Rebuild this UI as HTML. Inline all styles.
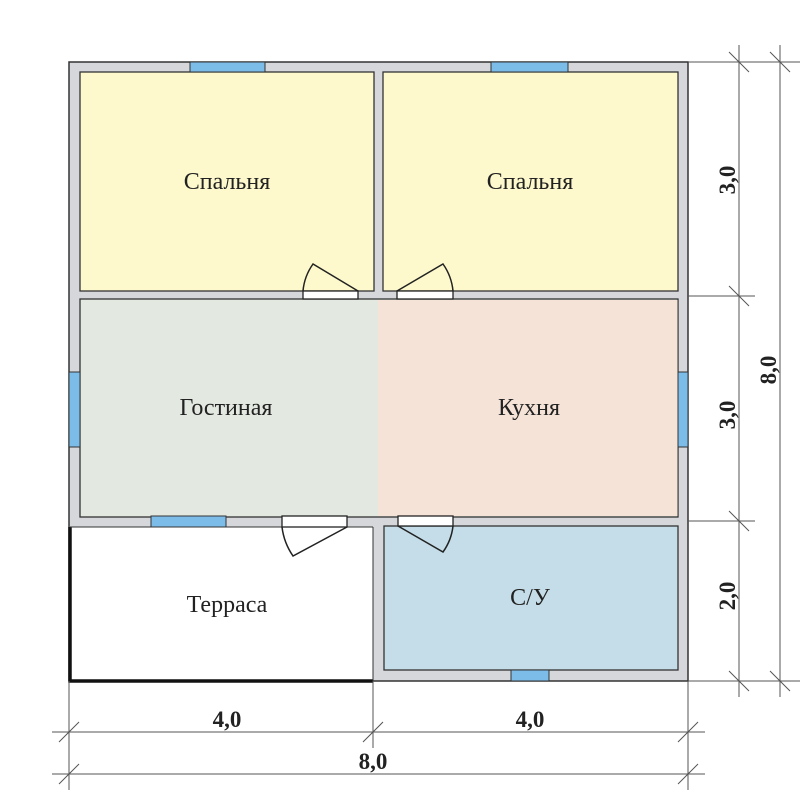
<!DOCTYPE html>
<html><head><style>body{margin:0;background:#fff}</style></head><body>
<svg width="800" height="800" xmlns="http://www.w3.org/2000/svg" style="display:block">
<rect x="69" y="62" width="619" height="619" fill="#d5d7db" stroke="#333" stroke-width="1.5"/>
<rect x="70" y="527" width="303" height="154" fill="#fff"/>
<path d="M70,527 V681 H373" fill="none" stroke="#111" stroke-width="3.5"/>
<line x1="70" y1="527" x2="373" y2="527" stroke="#333" stroke-width="1"/>
<line x1="373" y1="527" x2="373" y2="681" stroke="#333" stroke-width="1"/>
<g stroke="#333" stroke-width="1.3">
<rect x="80" y="72" width="294" height="219" fill="#fdf9cc"/>
<rect x="383" y="72" width="295" height="219" fill="#fdf9cc"/>
<rect x="80" y="299" width="598" height="218" fill="#e3e9e1"/>
<rect x="384" y="526" width="294" height="144" fill="#c4dde8"/>
</g>
<rect x="378" y="300" width="299.5" height="216" fill="#f5e3d8"/>
<g fill="#7bbde8" stroke="#333" stroke-width="1">
<rect x="190" y="62" width="75" height="10"/>
<rect x="491" y="62" width="77" height="10"/>
<rect x="69" y="372" width="11" height="75"/>
<rect x="678" y="372" width="10" height="75"/>
<rect x="151" y="516" width="75" height="11"/>
<rect x="511" y="670" width="38" height="11"/>
</g>
<g fill="#fff" stroke="#222" stroke-width="1.3">
<rect x="303" y="291" width="55" height="8"/>
<rect x="397" y="291" width="56" height="8"/>
<rect x="282" y="516" width="65" height="11"/>
<rect x="398" y="516" width="55" height="10"/>
</g>
<g fill="none" stroke="#222" stroke-width="1.5">
<path d="M303,291 A55,55 0 0 1 313,264 L358,291"/>
<path d="M453,291 A56,56 0 0 0 443,264 L397,291"/>
<path d="M282,527 A65,65 0 0 0 293,556 L347,527"/>
<path d="M453,526 A55,55 0 0 1 443,552 L398,526"/>
</g>
<g stroke="#555" stroke-width="1">
<line x1="688" y1="62" x2="800" y2="62"/>
<line x1="688" y1="296" x2="755" y2="296"/>
<line x1="688" y1="521" x2="755" y2="521"/>
<line x1="688" y1="681" x2="800" y2="681"/>
<line x1="739" y1="45" x2="739" y2="697"/>
<line x1="780" y1="45" x2="780" y2="697"/>
<line x1="729" y1="52" x2="749" y2="72"/><line x1="770" y1="52" x2="790" y2="72"/>
<line x1="729" y1="286" x2="749" y2="306"/>
<line x1="729" y1="511" x2="749" y2="531"/>
<line x1="729" y1="671" x2="749" y2="691"/><line x1="770" y1="671" x2="790" y2="691"/>
<line x1="69" y1="681" x2="69" y2="790"/>
<line x1="373" y1="681" x2="373" y2="748"/>
<line x1="688" y1="681" x2="688" y2="790"/>
<line x1="52" y1="732" x2="705" y2="732"/>
<line x1="52" y1="774" x2="705" y2="774"/>
<line x1="59" y1="742" x2="79" y2="722"/><line x1="363" y1="742" x2="383" y2="722"/><line x1="678" y1="742" x2="698" y2="722"/>
<line x1="59" y1="784" x2="79" y2="764"/><line x1="678" y1="784" x2="698" y2="764"/>
</g>
<g font-family="Liberation Serif, serif" font-size="24" fill="#222" text-anchor="middle">
<text x="227" y="189">Спальня</text>
<text x="530" y="189">Спальня</text>
<text x="226" y="415">Гостиная</text>
<text x="529" y="415">Кухня</text>
<text x="227" y="612">Терраса</text>
<text x="530" y="605">С/У</text>
</g>
<g font-family="Liberation Serif, serif" font-size="23" font-weight="bold" fill="#222" text-anchor="middle">
<text x="227" y="727">4,0</text>
<text x="530" y="727">4,0</text>
<text x="373" y="769">8,0</text>
<text transform="translate(735,180) rotate(-90)">3,0</text>
<text transform="translate(735,415) rotate(-90)">3,0</text>
<text transform="translate(735,596) rotate(-90)">2,0</text>
<text transform="translate(776,370) rotate(-90)">8,0</text>
</g>
</svg>
</body></html>
